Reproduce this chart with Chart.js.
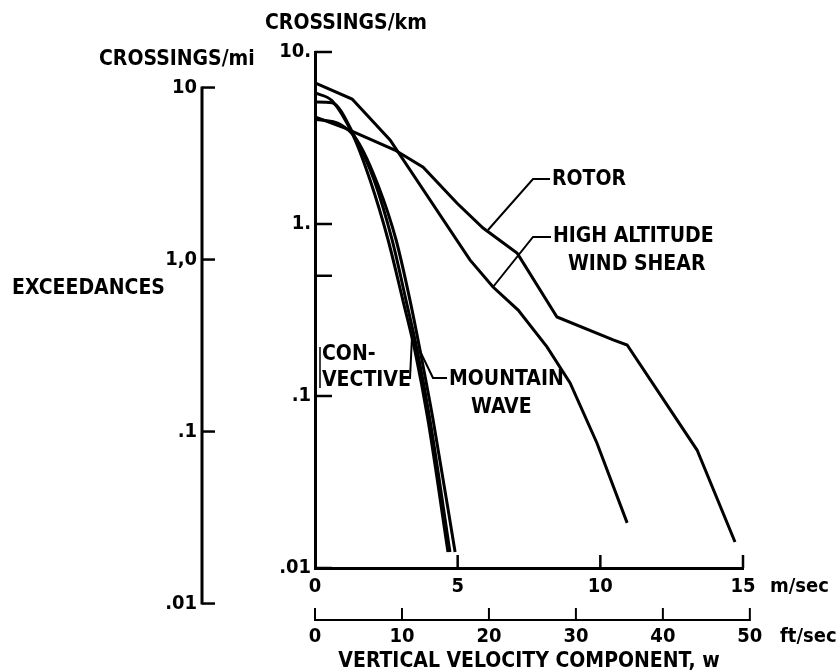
<!DOCTYPE html>
<html>
<head>
<meta charset="utf-8">
<script src="https://cdn.jsdelivr.net/npm/chart.js@4.4.1/dist/chart.umd.min.js"></script>
<style>
  html, body { margin: 0; padding: 0; background: #fff; }
  #wrap { width: 840px; height: 672px; position: relative; }
</style>
</head>
<body>
<div id="wrap"><canvas id="exceedChart"></canvas></div>
<script>
// vertical velocity (m/sec) and crossings per km
var windShearX = [0, 1.30, 2.63, 5.43, 6.24, 7.12, 8.13, 8.94, 9.88, 10.94];
var windShearY = [6.61, 5.33, 3.08, 0.618, 0.43, 0.316, 0.193, 0.119, 0.0533, 0.0183];

var rotorX = [0, 1.05, 2.80, 3.79, 4.98, 5.89, 7.08, 7.19, 8.48, 10.45, 10.94, 13.39, 14.72];
var rotorY = [4.19, 3.61, 2.69, 2.14, 1.32, 0.948, 0.678, 0.635, 0.288, 0.212, 0.198, 0.0485, 0.01416];

var convectiveX = [0, 0.60, 1.33, 1.93, 2.56, 3.08, 3.50, 3.96, 4.66];
var convectiveY = [5.78, 5.2, 3.29, 1.80, 0.81, 0.36, 0.184, 0.0725, 0.0124];

var convective2X = [0, 0.60, 1.40, 2.07, 2.70, 3.19, 3.58, 4.03, 4.73];
var convective2Y = [5.12, 5.06, 3.2, 1.80, 0.81, 0.36, 0.185, 0.0725, 0.0124];

var mountainX = [0, 0.88, 1.47, 2.21, 2.84, 3.33, 3.68, 4.14, 4.91];
var mountainY = [4.07, 3.8, 3.08, 1.68, 0.81, 0.36, 0.185, 0.0725, 0.0124];

// axis ticks
var kmTicks = [10, 1, 0.1, 0.01];
var kmTickLabels = ['10.', '1.', '.1', '.01'];
var kmMinorTicks = [0.5];
var msTicks = [0, 5, 10, 15];
var miTicks = [10, 1, 0.1, 0.01];
var miTickLabels = ['10', '1,0', '.1', '.01'];
var ftTicks = [0, 10, 20, 30, 40, 50];

var KM_PER_MI = 1.609344;
var M_PER_FT = 0.3048;
var FONT = '"DejaVu Sans Condensed", "Liberation Sans Narrow", sans-serif';

function pts(xs, ys) {
    return xs.map(function (x, i) { return { x: x, y: ys[i] }; });
}

function series(label, xs, ys, smooth) {
    return {
        label: label,
        data: pts(xs, ys),
        borderColor: '#000',
        borderWidth: 3,
        pointRadius: 0,
        fill: false,
        tension: 0,
        cubicInterpolationMode: smooth ? 'monotone' : 'default'
    };
}

function line(ctx, x1, y1, x2, y2) {
    ctx.beginPath();
    ctx.moveTo(x1, y1);
    ctx.lineTo(x2, y2);
    ctx.stroke();
}

function poly(ctx, p) {
    ctx.beginPath();
    ctx.moveTo(p[0][0], p[0][1]);
    for (var i = 1; i < p.length; i++) ctx.lineTo(p[i][0], p[i][1]);
    ctx.stroke();
}

var axesAndNotes = {
    id: 'axesAndNotes',
    afterDraw: function (chart) {
        var ctx = chart.ctx;
        var xs = chart.scales.x, ys = chart.scales.y;
        var area = chart.chartArea;
        ctx.save();
        ctx.strokeStyle = '#000';
        ctx.fillStyle = '#000';
        ctx.lineCap = 'butt';

        // inward ticks on the km axis
        ctx.lineWidth = 2.5;
        kmTicks.concat(kmMinorTicks).forEach(function (v) {
            var py = ys.getPixelForValue(v);
            line(ctx, area.left, py, area.left + 17, py);
        });
        // upward ticks on m/sec axis
        msTicks.slice(1).forEach(function (v) {
            var px = xs.getPixelForValue(v);
            line(ctx, px, area.bottom, px, area.bottom - 13);
        });

        // crossings per mile axis, on the same log transform
        var miX = 202;
        var miTop = ys.getPixelForValue(miTicks[0] / KM_PER_MI);
        var miBot = ys.getPixelForValue(miTicks[miTicks.length - 1] / KM_PER_MI);
        ctx.lineWidth = 3;
        line(ctx, miX, miTop - 1, miX, miBot + 1);
        ctx.lineWidth = 2.5;
        miTicks.forEach(function (v) {
            var py = ys.getPixelForValue(v / KM_PER_MI);
            line(ctx, miX, py, miX + 13, py);
        });

        // ft/sec axis
        var ftY = 620;
        var ft0 = xs.getPixelForValue(0);
        var ftEnd = xs.getPixelForValue(ftTicks[ftTicks.length - 1] * M_PER_FT);
        ctx.lineWidth = 2;
        line(ctx, ft0, ftY, ftEnd, ftY);
        ftTicks.forEach(function (v) {
            var px = xs.getPixelForValue(v * M_PER_FT);
            line(ctx, px, ftY + 1, px, ftY - 12);
        });

        // text
        ctx.textBaseline = 'middle';
        ctx.font = 'bold 20px ' + FONT;
        ctx.textAlign = 'right';
        miTicks.forEach(function (v, i) {
            ctx.fillText(miTickLabels[i], 197, ys.getPixelForValue(v / KM_PER_MI));
        });
        ctx.textAlign = 'center';
        ftTicks.forEach(function (v) {
            ctx.fillText(String(v), xs.getPixelForValue(v * M_PER_FT), 637);
        });

        ctx.textAlign = 'left';
        ctx.font = 'bold 21px ' + FONT;
        ctx.fillText('CROSSINGS/km', 265, 24);
        ctx.fillText('CROSSINGS/mi', 99, 60);
        ctx.fillText('EXCEEDANCES', 12, 289);
        ctx.fillText('ROTOR', 552, 180);
        ctx.fillText('HIGH ALTITUDE', 553, 237);
        ctx.fillText('WIND SHEAR', 568, 265);
        ctx.fillText('CON-', 322, 355);
        ctx.fillText('VECTIVE', 322, 381);
        ctx.fillText('MOUNTAIN', 449, 380);
        ctx.fillText('WAVE', 471, 408);
        ctx.font = 'bold 20px ' + FONT;
        ctx.fillText('m/sec', 770, 587);
        ctx.fillText('ft/sec', 780, 637);

        // leaders from the labels to their curves
        ctx.lineWidth = 2;
        poly(ctx, [[550, 179], [533, 179], [488, 230]]);
        poly(ctx, [[551, 237], [533, 237], [493, 287]]);
        poly(ctx, [[403, 378], [410, 378], [412, 337]]);
        poly(ctx, [[447, 378], [433, 378], [419, 349]]);
        ctx.lineWidth = 1.5;
        line(ctx, 320, 347, 320, 388);
        ctx.restore();
    }
};

var chart = new Chart(document.getElementById('exceedChart'), {
    type: 'line',
    data: {
        datasets: [
            series('HIGH ALTITUDE WIND SHEAR', windShearX, windShearY, false),
            series('ROTOR', rotorX, rotorY, false),
            series('CONVECTIVE', convectiveX, convectiveY, true),
            series('CONVECTIVE', convective2X, convective2Y, true),
            series('MOUNTAIN WAVE', mountainX, mountainY, true)
        ]
    },
    options: {
        animation: false,
        responsive: true,
        maintainAspectRatio: false,
        devicePixelRatio: 1,
        layout: {
            padding: { left: 0, right: 97, top: 52, bottom: 0 }
        },
        plugins: {
            legend: { display: false },
            tooltip: { enabled: false },
            title: { display: false }
        },
        scales: {
            x: {
                type: 'linear',
                min: 0,
                max: 15,
                grid: { display: false, drawTicks: false },
                border: { display: true, color: '#000', width: 3 },
                afterBuildTicks: function (scale) {
                    scale.ticks = msTicks.map(function (v) { return { value: v }; });
                },
                ticks: {
                    color: '#000',
                    padding: 9,
                    maxRotation: 0,
                    font: { family: FONT, size: 20, weight: 'bold', lineHeight: 1 }
                },
                title: {
                    display: true,
                    text: 'VERTICAL VELOCITY COMPONENT, w',
                    color: '#000',
                    padding: { top: 0, bottom: 0 },
                    font: { family: FONT, size: 21, weight: 'bold', lineHeight: 1 }
                },
                afterFit: function (scale) { scale.height = 104; }
            },
            y: {
                type: 'logarithmic',
                min: 0.01,
                max: 10,
                grid: { display: false, drawTicks: false },
                border: { display: true, color: '#000', width: 3 },
                afterBuildTicks: function (scale) {
                    scale.ticks = kmTicks.map(function (v) { return { value: v }; });
                },
                ticks: {
                    color: '#000',
                    padding: 4,
                    font: { family: FONT, size: 20, weight: 'bold', lineHeight: 1 },
                    callback: function (v) {
                        var i = kmTicks.indexOf(v);
                        return i >= 0 ? kmTickLabels[i] : '';
                    }
                },
                afterFit: function (scale) { scale.width = 315; }
            }
        }
    },
    plugins: [axesAndNotes]
});
</script>
</body>
</html>
